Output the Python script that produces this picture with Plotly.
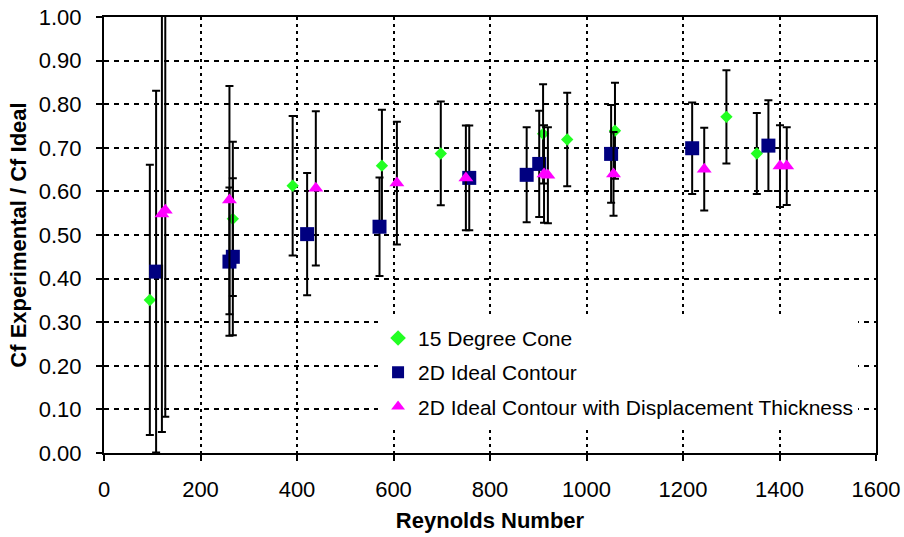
import plotly.graph_objects as go

# ---- data ----
cone_re = [95, 267, 391, 576, 698, 910, 960, 1059, 1290, 1353]
cone_cf = [0.351, 0.537, 0.613, 0.659, 0.687, 0.732, 0.719, 0.739, 0.771, 0.687]
cone_err = [0.31, 0.177, 0.16, 0.128, 0.119, 0.114, 0.107, 0.11, 0.107, 0.093]

ideal_re = [108, 260, 267, 421, 571, 757, 876, 902, 1051, 1219, 1377]
ideal_cf = [0.416, 0.439, 0.450, 0.502, 0.519, 0.631, 0.638, 0.663, 0.686, 0.699, 0.705]
ideal_err = [0.415, 0.17, 0.18, 0.14, 0.113, 0.12, 0.109, 0.122, 0.112, 0.105, 0.104]

disp_re = [120, 127, 260, 439, 607, 750, 912, 920, 1056, 1244, 1401, 1415]
disp_cf = [0.548, 0.557, 0.580, 0.607, 0.619, 0.631, 0.640, 0.637, 0.640, 0.651, 0.658, 0.658]
disp_err = [0.50, 0.474, 0.262, 0.177, 0.141, 0.12, 0.112, 0.11, 0.096, 0.095, 0.094, 0.089]

x_ticks = [0, 200, 400, 600, 800, 1000, 1200, 1400, 1600]
y_ticks = [0.0, 0.1, 0.2, 0.3, 0.4, 0.5, 0.6, 0.7, 0.8, 0.9, 1.0]

FONT = "Liberation Sans, Arial, sans-serif"

def err(vals):
    return dict(type="data", array=vals, visible=True, color="black",
                thickness=2, width=4)

fig = go.Figure()
fig.add_trace(go.Scatter(
    x=cone_re, y=cone_cf, mode="markers", name="15 Degree Cone",
    legendgroup="a", cliponaxis=False,
    marker=dict(symbol="diamond", size=9.5, color="#22FF22"),
    error_y=err(cone_err)))
fig.add_trace(go.Scatter(
    x=ideal_re, y=ideal_cf, mode="markers", name="2D Ideal Contour",
    legendgroup="b", cliponaxis=False,
    marker=dict(symbol="square", size=14, color="#000080"),
    error_y=err(ideal_err)))
fig.add_trace(go.Scatter(
    x=disp_re, y=disp_cf, mode="markers",
    name="2D Ideal Contour with Displacement Thickness",
    legendgroup="c", cliponaxis=False,
    marker=dict(symbol="triangle-up", size=13, color="#FF00FF"),
    error_y=err(disp_err)))

fig.update_layout(
    template="none",
    width=904, height=537,
    margin=dict(l=104, r=28, t=17, b=84, autoexpand=False),
    paper_bgcolor="white", plot_bgcolor="white",
    font=dict(family=FONT, size=21, color="black"),
    showlegend=True,
    legend=dict(x=0.355, y=0.31, xanchor="left", yanchor="top",
                bgcolor="white", borderwidth=0,
                font=dict(family=FONT, size=21, color="black"),
                tracegroupgap=4, traceorder="grouped",
                itemsizing="constant"),
)
fig.update_xaxes(
    automargin=False,
    range=[0, 1600], tickvals=x_ticks, ticktext=[str(v) for v in x_ticks],
    tickfont=dict(family=FONT, size=22, color="black"),
    showgrid=True, gridcolor="black", gridwidth=2, griddash="3px,4px",
    showline=True, linecolor="black", linewidth=2, mirror=True,
    ticks="outside", ticklen=6, tickwidth=1.5, tickcolor="black",
    ticklabelstandoff=10, zeroline=False,
    title=dict(text="<b>Reynolds Number</b>", standoff=11,
               font=dict(family=FONT, size=22, color="black")),
)
fig.update_yaxes(
    automargin=False,
    range=[0, 1.0], tickvals=y_ticks, ticktext=[f"{v:.2f}" for v in y_ticks],
    tickfont=dict(family=FONT, size=22, color="black"),
    showgrid=True, gridcolor="black", gridwidth=2, griddash="5px,5px",
    showline=True, linecolor="black", linewidth=2, mirror=True,
    ticks="outside", ticklen=6, tickwidth=1.5, tickcolor="black",
    ticklabelstandoff=10, zeroline=False,
    title=dict(text="<b>Cf Experimental / Cf Ideal</b>", standoff=6,
               font=dict(family=FONT, size=22, color="black")),
)

fig.write_html("out.html")
